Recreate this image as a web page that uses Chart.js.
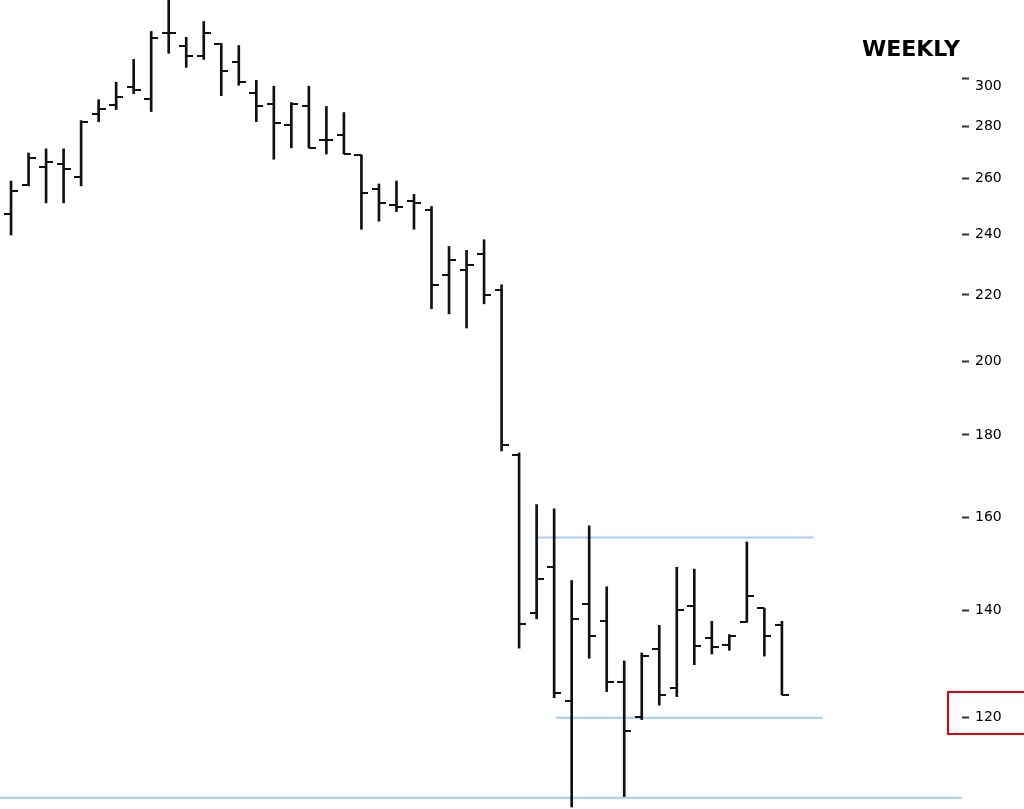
<!DOCTYPE html>
<html>
<head>
<meta charset="utf-8">
<title>Weekly</title>
<script src="https://cdn.jsdelivr.net/npm/chart.js@4/dist/chart.umd.min.js"></script>
<style>
  html, body { margin: 0; padding: 0; background: #fff; overflow: hidden; }
  #wrap { position: relative; width: 1024px; height: 809px; }
  #title {
    position: absolute; left: 862px; top: 38px;
    font: bold 22px "DejaVu Sans", Verdana, sans-serif; line-height: 22px;
    color: #000;
  }
  #mark {
    position: absolute; left: 947px; top: 691px; width: 90px; height: 40px;
    border: 2px solid #e8000b;
  }
</style>
</head>
<body>
<div id="wrap">
  <canvas id="chart"></canvas>
  <div id="title">WEEKLY</div>
  <div id="mark"></div>
</div>
<script>
// weekly OHLC, one entry per week
const opens = [246.9, 257.6, 264.4, 265.2, 260.4, 284.9, 289.0, 296.3, 291.4, 320.0,
  314.1, 309.6, 315.4, 307.0, 293.9, 289.4, 280.8, 288.2, 274.8, 276.8,
  268.8, 256.2, 250.3, 251.7, 248.3, 226.4, 228.0, 233.2, 221.6, 174.9,
  139.4, 148.9, 123.0, 141.3, 137.9, 126.3, 120.2, 132.4, 125.2, 140.9,
  134.5, 133.2, 137.6, 140.4, 137.0];
const highs = [259.0, 269.6, 271.2, 271.2, 282.4, 291.0, 298.4, 308.3, 320.9, 338.0,
  318.2, 325.5, 315.4, 314.5, 299.2, 296.7, 289.8, 296.7, 288.2, 285.7,
  268.8, 257.9, 259.0, 254.1, 249.7, 235.8, 234.5, 238.1, 223.2, 175.4,
  162.9, 161.9, 146.1, 158.0, 144.8, 130.2, 131.7, 137.0, 148.9, 148.5,
  137.8, 135.2, 154.4, 140.4, 137.8];
const lows = [239.7, 257.2, 251.0, 251.0, 257.2, 282.0, 286.9, 293.5, 286.1, 311.0,
  304.8, 308.3, 292.7, 297.1, 282.0, 267.2, 271.6, 271.6, 269.2, 269.2,
  241.7, 244.5, 247.9, 241.7, 215.7, 214.1, 209.8, 217.2, 175.9, 132.6,
  138.3, 123.5, 105.6, 130.7, 124.6, 107.2, 119.7, 122.2, 123.7, 129.5,
  131.5, 132.2, 137.6, 131.1, 124.0];
const closes = [255.2, 267.6, 266.0, 263.6, 282.0, 287.3, 292.2, 295.1, 317.7, 320.0,
  309.6, 320.0, 303.4, 298.4, 288.2, 281.6, 289.4, 271.6, 274.8, 269.2,
  254.5, 251.0, 249.7, 251.0, 223.2, 231.3, 229.7, 220.0, 177.3, 137.2,
  146.5, 124.4, 138.3, 135.0, 126.3, 117.8, 131.1, 123.9, 140.0, 133.0,
  132.8, 135.0, 142.8, 135.0, 124.0];

// price axis
const priceTicks = [120, 140, 160, 180, 200, 220, 240, 260, 280, 300];
const priceMin = 105.3;
const priceMax = 335.7;

// week axis range
const weekMin = -0.63;
const weekMax = 54.28;

// horizontal levels: [start week, end week, price]
const resistance = [30.08, 45.78, 155.4];
const support = [31.11, 46.35, 120.0];
const floorLevel = [weekMin, weekMax, 107.0];

function tickImage(side) {
  const c = document.createElement("canvas");
  c.width = 14;
  c.height = 2;
  const g = c.getContext("2d");
  g.fillStyle = "#111";
  g.fillRect(side === "left" ? 0 : 7, 0, 7, 2);
  return c;
}

function levelSet(level) {
  return {
    type: "line",
    data: [{ x: level[0], y: level[2] }, { x: level[1], y: level[2] }],
    borderColor: "#a3cdf3",
    borderWidth: 2,
    pointRadius: 0,
    order: 10
  };
}

const ctx = document.getElementById("chart");
ctx.width = 1024;
ctx.height = 809;

new Chart(ctx, {
  type: "bar",
  data: {
    datasets: [
      {
        type: "bar",
        data: highs.map((h, i) => ({ x: i, y: [lows[i], h] })),
        backgroundColor: "#111",
        barThickness: 2,
        grouped: false,
        order: 2
      },
      {
        type: "line",
        data: opens.map((v, i) => ({ x: i, y: v })),
        showLine: false,
        pointStyle: tickImage("left"),
        pointRadius: 7,
        order: 1
      },
      {
        type: "line",
        data: closes.map((v, i) => ({ x: i, y: v })),
        showLine: false,
        pointStyle: tickImage("right"),
        pointRadius: 7,
        order: 1
      },
      levelSet(resistance),
      levelSet(support),
      levelSet(floorLevel)
    ]
  },
  options: {
    responsive: false,
    animation: false,
    events: [],
    layout: { padding: 0, autoPadding: false },
    plugins: {
      legend: { display: false },
      tooltip: { enabled: false }
    },
    scales: {
      x: {
        type: "linear",
        min: weekMin,
        max: weekMax,
        offset: false,
        display: false
      },
      y: {
        type: "logarithmic",
        position: "right",
        min: priceMin,
        max: priceMax,
        afterBuildTicks: (scale) => {
          scale.ticks = priceTicks.map(v => ({ value: v }));
        },
        afterFit: (scale) => {
          scale.width = 62;
          scale.paddingTop = 0;
          scale.paddingBottom = 0;
        },
        border: { display: false },
        grid: {
          drawOnChartArea: false,
          drawTicks: true,
          tickLength: 7,
          tickWidth: 2,
          tickColor: "#333"
        },
        ticks: {
          color: "#000",
          padding: 6,
          autoSkip: false,
          font: { family: "DejaVu Sans", size: 14 },
          // the top label sits a little under its dash in the original
          callback: (v) => v === 300 ? ["", "300"] : String(v)
        }
      }
    }
  }
});
</script>
</body>
</html>
